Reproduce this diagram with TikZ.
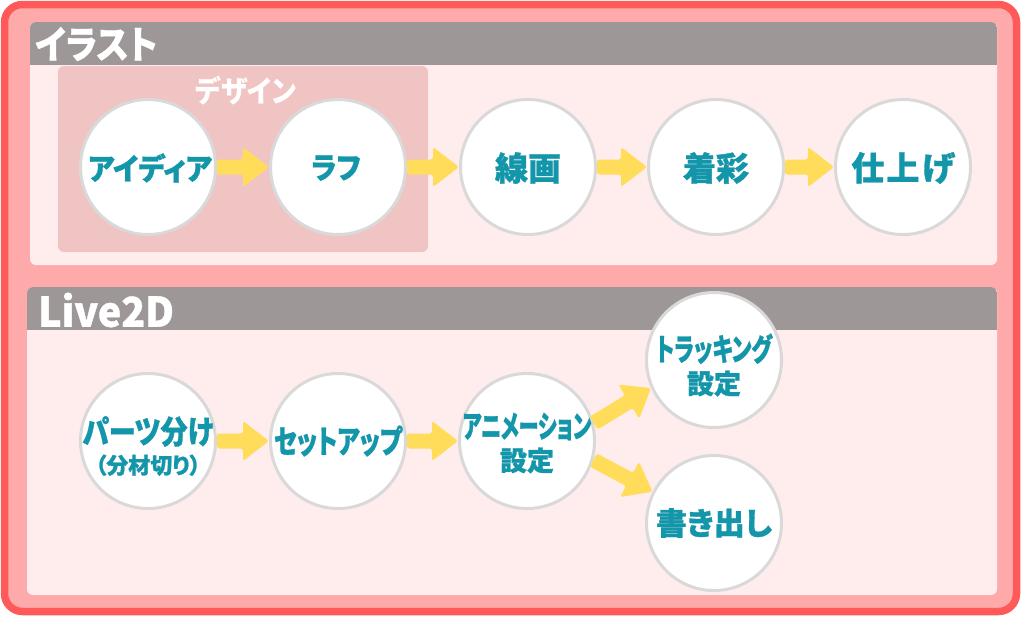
\documentclass[tikz,border=0pt]{standalone}
\usepackage{fontspec}
\newfontfamily\jp{Noto Sans CJK JP}[RawFeature=+palt, BoldFeatures={FakeBold=1}]
\newfontfamily\jpplain{Noto Sans CJK JP}[RawFeature=+palt]
\usetikzlibrary{calc}
\definecolor{redline}{HTML}{FF5A5A}
\definecolor{pinkband}{HTML}{FFAAAA}
\definecolor{headgray}{HTML}{9E9797}
\definecolor{bodypink}{HTML}{FFEDED}
\definecolor{designpink}{HTML}{F1C4C4}
\definecolor{circgray}{HTML}{D9D9D9}
\definecolor{arrowc}{HTML}{FFDC5A}
\definecolor{tealtext}{HTML}{1496AA}
\newcommand\flowarrow[2]{%
  \coordinate (fa-b) at ($(#2)!26pt!(#1)$);
  \fill[arrowc, rounded corners=2.5pt]
    ($(#1)!7.5pt!-90:(#2)$) -- ($(fa-b)!7.5pt!-90:(#2)$) -- ($(fa-b)!20pt!-90:(#2)$)
    -- (#2) -- ($(fa-b)!20pt!90:(#2)$) -- ($(fa-b)!7.5pt!90:(#2)$)
    -- ($(#1)!7.5pt!90:(#2)$) -- cycle;
}
\newcommand\fs[1]{\fontsize{#1}{33}\selectfont}
\begin{document}
\begin{tikzpicture}[x=1pt,y=-1pt,
  stepc/.style={circle, draw=circgray, line width=3pt, fill=white, minimum size=135pt,
    inner sep=0pt},
  steptext/.style={inner sep=0pt, text=tealtext, align=center,
    font=\jp\bfseries\fontsize{30}{33}\selectfont},
  headtext/.style={anchor=west, inner sep=0pt, text=white, font=\jp\bfseries},
  sectbody/.style={fill=bodypink, rounded corners=6pt},
  secthead/.style={fill=headgray}]
\useasboundingbox (0,0) rectangle (1024,619);
% outer frame
\draw[redline, fill=pinkband, line width=7.5pt, rounded corners=18pt] (4.5,4.5) rectangle (1016.5,611.5);
% section 1
\fill[sectbody] (30,22) rectangle (997,265);
\begin{scope}
  \clip[rounded corners=6pt] (30,22) rectangle (997,265);
  \fill[secthead] (30,22) rectangle (997,65);
\end{scope}
\node[headtext, font=\jp\bfseries\fontsize{38}{38}\selectfont] (h1) at (35,44) {\scalebox{0.9}[1]{イラスト}};
% design group
\fill[designpink, rounded corners=6pt] (58,66) rectangle (428,252);
\node[inner sep=0pt, text=white, font=\jpplain\bfseries\fontsize{30}{30}\selectfont] (design) at (246,91) {\scalebox{0.9}[1]{デザイン}};
% section 2
\fill[sectbody] (27,287) rectangle (997,595);
\begin{scope}
  \clip[rounded corners=6pt] (27,287) rectangle (997,595);
  \fill[secthead] (27,287) rectangle (997,330);
\end{scope}
\node[headtext, font=\jp\bfseries\fontsize{41}{41}\selectfont] (h2) at (38,310) {\scalebox{0.96}[1]{Live2D}};
% top row circles
\node[stepc] (idea) at (148,167) {};
\node[stepc] (rough) at (338,167) {};
\node[stepc] (line) at (528,167) {};
\node[stepc] (color) at (716,167) {};
\node[stepc] (finish) at (903,167) {};
% bottom row circles
\node[stepc] (parts) at (148,441) {};
\node[stepc] (setup) at (338,441) {};
\node[stepc] (anim) at (527,441) {};
\node[stepc] (track) at (714,360) {};
\node[stepc] (write) at (714,523) {};
% texts
\node[steptext] (idea-t) at (150,168) {\scalebox{0.94}[1]{アイディア}};
\node[steptext] (rough-t) at (336,168) {\scalebox{0.92}[1]{ラフ}};
\node[steptext] (line-t) at (528,168) {\fs{33}線画};
\node[steptext] (color-t) at (716,168) {\fs{33}着彩};
\node[steptext] (finish-t) at (903,168) {\fs{33}仕\hspace{2pt}上\hspace{2pt}げ};
\node[steptext] (parts-t) at (148,446) {\fs{32}\scalebox{0.84}[1]{パーツ分け}\\[-3pt]{\fs{22}（分材切り）}};
\node[steptext] (setup-t) at (338,441) {\fs{32}\scalebox{0.75}[1]{セットアップ}};
\node[steptext] (anim-t) at (527,443) {\fs{31}\scalebox{0.65}[1]{アニメーション}\\{\fs{27}設定}};
\node[steptext] (track-t) at (714,365) {\fs{31}\scalebox{0.7}[1]{トラッキング}\\{\fs{27}設定}};
\node[steptext] (write-t) at (714,523) {\fs{31}書き出し};
% arrows
\flowarrow{idea.east}{rough.west}
\flowarrow{rough.east}{line.west}
\flowarrow{line.east}{color.west}
\flowarrow{color.east}{finish.west}
\flowarrow{parts.east}{setup.west}
\flowarrow{setup.east}{anim.west}
\flowarrow{anim.15}{track.204}
\flowarrow{anim.-16}{write.153}
\end{tikzpicture}
\end{document}
